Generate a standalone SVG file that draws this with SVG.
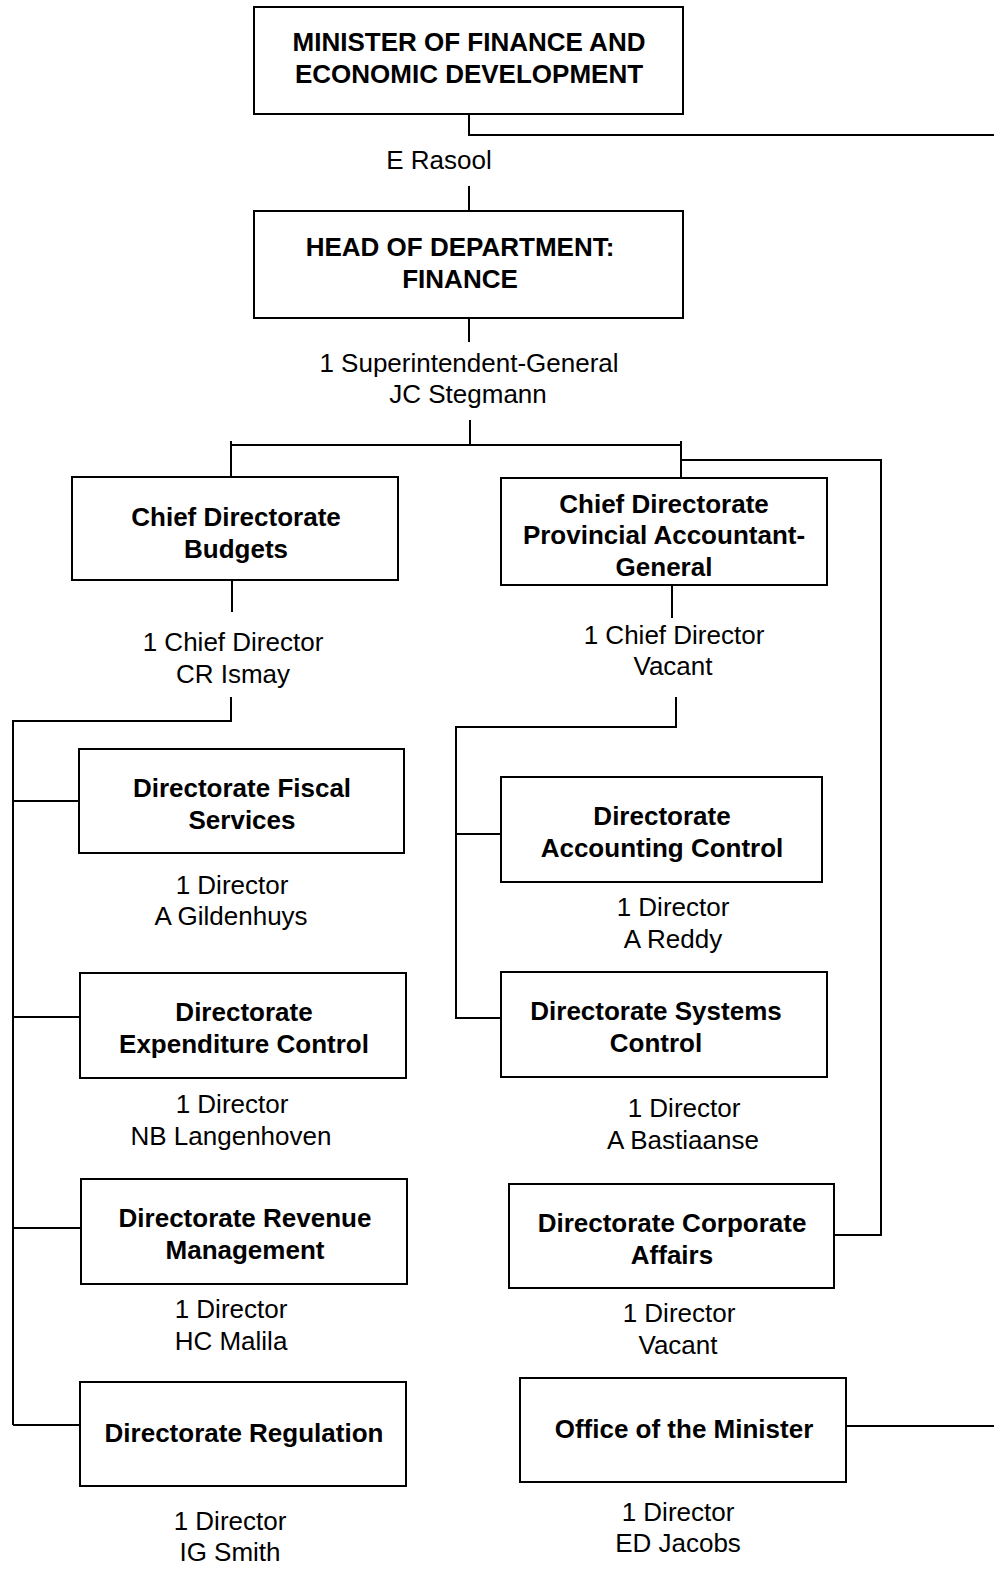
<svg xmlns="http://www.w3.org/2000/svg" width="994" height="1572" viewBox="0 0 994 1572">
<style>
.box{fill:#fff;stroke:#000;stroke-width:2}
.t{font-family:"Liberation Sans",Arial,sans-serif;font-size:26px;font-weight:bold;text-anchor:middle;fill:#000}
.l{font-family:"Liberation Sans",Arial,sans-serif;font-size:26px;text-anchor:middle;fill:#000}
.c{fill:none;stroke:#000;stroke-width:2}
</style>
<rect width="994" height="1572" fill="#fff"/>
<g id="connectors">
<path class="c" d="M469 114V135H994"/>
<path class="c" d="M469 186V210"/>
<path class="c" d="M469 318V342"/>
<path class="c" d="M470 420V444"/>
<path class="c" d="M231 477V445H681M231 441V445M681 441V478"/>
<path class="c" d="M681 460H881V1235H832"/>
<path class="c" d="M232 580V612"/>
<path class="c" d="M231 697V721H13V1425"/>
<path class="c" d="M13 801H79M13 1017H80M13 1228H81M13 1425H80"/>
<path class="c" d="M672 585V618"/>
<path class="c" d="M676 697V727H456V1019"/>
<path class="c" d="M456 834H500M456 1018H500"/>
<path class="c" d="M843 1426H994"/>
</g>
<g id="minister">
<rect class="box" x="254" y="7" width="429" height="107"/>
<text class="t" x="469" y="51">MINISTER OF FINANCE AND</text>
<text class="t" x="469" y="83">ECONOMIC DEVELOPMENT</text>
</g>
<g id="minister-label"><text class="l" x="439" y="169">E Rasool</text></g>
<g id="hod">
<rect class="box" x="254" y="211" width="429" height="107"/>
<text class="t" x="460" y="256">HEAD OF DEPARTMENT:</text>
<text class="t" x="460" y="288">FINANCE</text>
</g>
<g id="hod-label">
<text class="l" x="469" y="372">1 Superintendent-General</text>
<text class="l" x="468" y="403">JC Stegmann</text>
</g>
<g id="cd-budgets">
<rect class="box" x="72" y="477" width="326" height="103"/>
<text class="t" x="236" y="526">Chief Directorate</text>
<text class="t" x="236" y="558">Budgets</text>
<text class="l" x="233" y="651">1 Chief Director</text>
<text class="l" x="233" y="683">CR Ismay</text>
</g>
<g id="cd-pag">
<rect class="box" x="501" y="478" width="326" height="107"/>
<text class="t" x="664" y="513">Chief Directorate</text>
<text class="t" x="664" y="544">Provincial Accountant-</text>
<text class="t" x="664" y="576">General</text>
<text class="l" x="674" y="644">1 Chief Director</text>
<text class="l" x="673" y="675">Vacant</text>
</g>
<g id="dir-fiscal">
<rect class="box" x="79" y="749" width="325" height="104"/>
<text class="t" x="242" y="797">Directorate Fiscal</text>
<text class="t" x="242" y="829">Services</text>
<text class="l" x="232" y="894">1 Director</text>
<text class="l" x="231" y="925">A Gildenhuys</text>
</g>
<g id="dir-accounting">
<rect class="box" x="501" y="777" width="321" height="105"/>
<text class="t" x="662" y="825">Directorate</text>
<text class="t" x="662" y="857">Accounting Control</text>
<text class="l" x="673" y="916">1 Director</text>
<text class="l" x="673" y="948">A Reddy</text>
</g>
<g id="dir-expenditure">
<rect class="box" x="80" y="973" width="326" height="105"/>
<text class="t" x="244" y="1021">Directorate</text>
<text class="t" x="244" y="1053">Expenditure Control</text>
<text class="l" x="232" y="1113">1 Director</text>
<text class="l" x="231" y="1145">NB Langenhoven</text>
</g>
<g id="dir-systems">
<rect class="box" x="501" y="972" width="326" height="105"/>
<text class="t" x="656" y="1020">Directorate Systems</text>
<text class="t" x="656" y="1052">Control</text>
<text class="l" x="684" y="1117">1 Director</text>
<text class="l" x="683" y="1149">A Bastiaanse</text>
</g>
<g id="dir-revenue">
<rect class="box" x="81" y="1179" width="326" height="105"/>
<text class="t" x="245" y="1227">Directorate Revenue</text>
<text class="t" x="245" y="1259">Management</text>
<text class="l" x="231" y="1318">1 Director</text>
<text class="l" x="231" y="1350">HC Malila</text>
</g>
<g id="dir-corporate">
<rect class="box" x="509" y="1184" width="325" height="104"/>
<text class="t" x="672" y="1232">Directorate Corporate</text>
<text class="t" x="672" y="1264">Affairs</text>
<text class="l" x="679" y="1322">1 Director</text>
<text class="l" x="678" y="1354">Vacant</text>
</g>
<g id="dir-regulation">
<rect class="box" x="80" y="1382" width="326" height="104"/>
<text class="t" x="244" y="1442">Directorate Regulation</text>
<text class="l" x="230" y="1530">1 Director</text>
<text class="l" x="230" y="1561">IG Smith</text>
</g>
<g id="office-minister">
<rect class="box" x="520" y="1378" width="326" height="104"/>
<text class="t" x="684" y="1438">Office of the Minister</text>
<text class="l" x="678" y="1521">1 Director</text>
<text class="l" x="678" y="1552">ED Jacobs</text>
</g>
</svg>
